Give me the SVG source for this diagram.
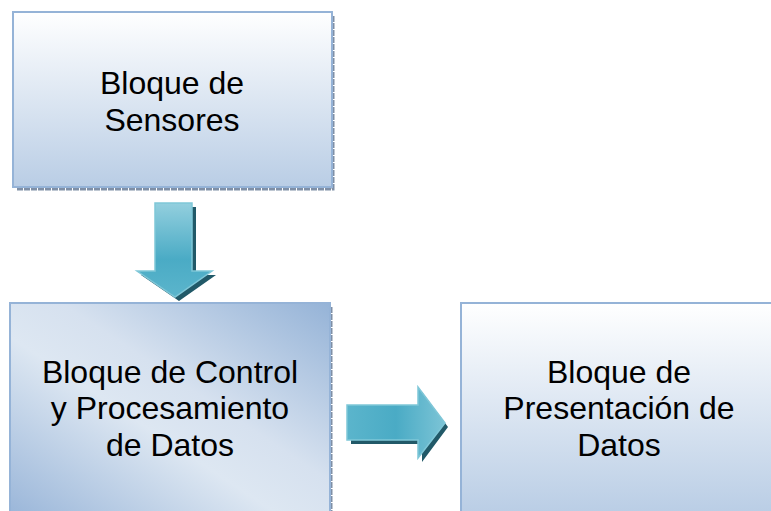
<svg xmlns="http://www.w3.org/2000/svg" width="771" height="511" viewBox="0 0 771 511">
<defs>
<linearGradient id="gv" x1="0" y1="0" x2="0" y2="1">
<stop offset="0" stop-color="#ffffff"/>
<stop offset="1" stop-color="#b9cde5"/>
</linearGradient>
<linearGradient id="gd" x1="1" y1="0" x2="0" y2="1">
<stop offset="0" stop-color="#95b3d7"/>
<stop offset="0.42" stop-color="#d6e1ef"/>
<stop offset="0.58" stop-color="#dde7f2"/>
<stop offset="1" stop-color="#9ab6d9"/>
</linearGradient>
<linearGradient id="ga" x1="0" y1="0" x2="0" y2="1">
<stop offset="0" stop-color="#93cfde"/>
<stop offset="0.6" stop-color="#4aabc5"/>
<stop offset="1" stop-color="#5bb5cc"/>
</linearGradient>
<linearGradient id="gh" x1="0" y1="0" x2="1" y2="0">
<stop offset="0" stop-color="#5bb5cc"/>
<stop offset="0.5" stop-color="#4aabc5"/>
<stop offset="1" stop-color="#7cc4d6"/>
</linearGradient>
</defs>
<style>
.box{stroke:#95b3d7;stroke-width:2}
.sh{fill:none;stroke:#7f8fa6;stroke-width:3;stroke-dasharray:6 1}
.lbl{font-family:"Liberation Sans",Arial,sans-serif;font-size:32px;fill:#000;text-anchor:middle}
.arr{stroke:#7fc7d8;stroke-width:1.5}
.ash{fill:#215968}
</style>
<rect width="771" height="511" fill="#ffffff"/>
<g id="sensores">
<polyline class="sh" points="333,16 333,189 16,189"/>
<rect class="box" x="13" y="12" width="319" height="175" fill="url(#gv)"/>
<text class="lbl" x="172" y="94">Bloque de</text>
<text class="lbl" x="172" y="131">Sensores</text>
</g>
<g id="control">
<polyline class="sh" points="331,307 331,511"/>
<rect class="box" x="10" y="303" width="320" height="212" fill="url(#gd)"/>
<text class="lbl" x="170" y="383">Bloque de Control</text>
<text class="lbl" x="170" y="419">y Procesamiento</text>
<text class="lbl" x="170" y="456">de Datos</text>
</g>
<g id="presentacion">
<rect class="box" x="461" y="303" width="314" height="212" fill="url(#gv)"/>
<text class="lbl" x="619" y="383">Bloque de</text>
<text class="lbl" x="619" y="419">Presentación de</text>
<text class="lbl" x="619" y="456">Datos</text>
</g>
<g id="connectors">
<polygon class="ash" points="159,207 196,207 196,275 216,275 179,301 141,275 159,275"/>
<polygon class="arr" fill="url(#ga)" points="155,203 192,203 192,271 212,271 175,297 137,271 155,271"/>
<polygon class="ash" points="351,409 422,409 422,392 448,427 422,462 422,444 351,444"/>
<polygon class="arr" fill="url(#gh)" points="347,405 418,405 418,387 445,423 418,458 418,440 347,440"/>
</g>
</svg>
